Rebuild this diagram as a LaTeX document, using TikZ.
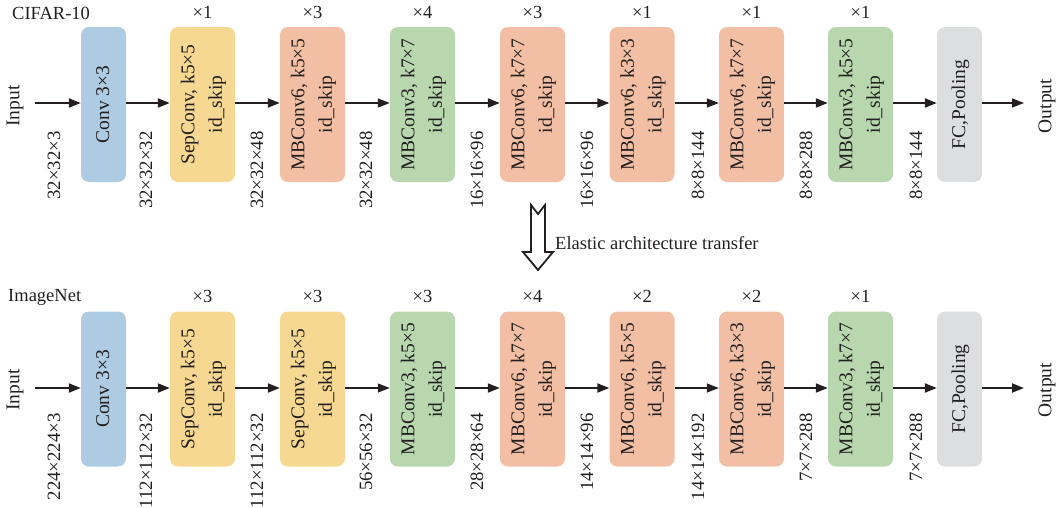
\documentclass[tikz,border=0pt]{standalone}
\usepackage{fontspec}
\setmainfont{Liberation Serif}
\usetikzlibrary{arrows.meta}
\definecolor{cblue}{RGB}{173,204,227}
\definecolor{cyel}{RGB}{246,216,147}
\definecolor{csal}{RGB}{243,191,164}
\definecolor{cgrn}{RGB}{184,215,175}
\definecolor{cgry}{RGB}{221,222,224}
\definecolor{ink}{RGB}{35,31,32}
\newcommand{\vt}[1]{\rotatebox{90}{\fontsize{19.5}{27.5}\selectfont\begin{tabular}{@{}c@{}}#1\end{tabular}}}
\begin{document}
\begin{tikzpicture}[x=1pt,y=-1pt,
  font=\fontsize{18.5}{22}\selectfont, text=ink,
  blk/.style={rounded corners=8pt, minimum height=155pt, minimum width=65pt, inner sep=0pt, align=center},
  narrow/.style={blk, minimum width=45pt},
  dim/.style={rotate=90, anchor=east, inner sep=0pt, font=\fontsize{18.8}{22}\selectfont},
  rot/.style={rotate=90, inner sep=0pt, font=\fontsize{19.5}{22}\selectfont},
  mult/.style={inner sep=0pt},
  conn/.style={line width=2pt, draw=ink, -{Triangle[length=12pt,width=9pt]}},
  connthin/.style={conn, line width=1.2pt}]

\useasboundingbox (0,0) rectangle (1056,507);

% ---------------- Top row: CIFAR-10 ----------------
\node[anchor=west, inner sep=0pt] (cifar) at (12,13) {CIFAR-10};
\node[rot] (in1) at (15,106) {Input};
\node[rot] (out1) at (1047,106) {Output};
\coordinate (s1) at (35,103);
\coordinate (e1) at (1024,103);

\node[narrow, fill=cblue] (a1) at (103.5,104.5) {\vt{Conv 3×3}};
\node[blk, fill=cyel] (a2) at (202.5,104.5) {\vt{SepConv, k5×5\\id\_skip}};
\node[blk, fill=csal] (a3) at (312.5,104.5) {\vt{MBConv6, k5×5\\id\_skip}};
\node[blk, fill=cgrn] (a4) at (422.5,104.5) {\vt{MBConv3, k7×7\\id\_skip}};
\node[blk, fill=csal] (a5) at (532.5,104.5) {\vt{MBConv6, k7×7\\id\_skip}};
\node[blk, fill=csal] (a6) at (642,104.5) {\vt{MBConv6, k3×3\\id\_skip}};
\node[blk, fill=csal] (a7) at (751.5,104.5) {\vt{MBConv6, k7×7\\id\_skip}};
\node[blk, fill=cgrn] (a8) at (860.5,104.5) {\vt{MBConv3, k5×5\\id\_skip}};
\node[narrow, fill=cgry] (a9) at (959.5,104.5) {\vt{FC,Pooling}};

\node[mult] (ma2) at (202.5,12) {×1};
\node[mult] (ma3) at (312.5,12) {×3};
\node[mult] (ma4) at (422.5,12) {×4};
\node[mult] (ma5) at (532.5,12) {×3};
\node[mult] (ma6) at (642,12) {×1};
\node[mult] (ma7) at (751.5,12) {×1};
\node[mult] (ma8) at (860.5,12) {×1};

\node[dim] (da1) at (54,131) {32×32×3};
\node[dim] (da2) at (146,131) {32×32×32};
\node[dim] (da3) at (257,131) {32×32×48};
\node[dim] (da4) at (366,131) {32×32×48};
\node[dim] (da5) at (477,131) {16×16×96};
\node[dim] (da6) at (587,131) {16×16×96};
\node[dim] (da7) at (698,131) {8×8×144};
\node[dim] (da8) at (806,131) {8×8×288};
\node[dim] (da9) at (916,131) {8×8×144};

\draw[conn] (s1) -- (a1.west |- s1);
\draw[conn] (a1.east |- s1) -- (a2.west |- s1);
\draw[conn] (a2.east |- s1) -- (a3.west |- s1);
\draw[connthin] (a3.east |- s1) -- (a4.west |- s1);
\draw[conn] (a4.east |- s1) -- (a5.west |- s1);
\draw[conn] (a5.east |- s1) -- (a6.west |- s1);
\draw[connthin] (a6.east |- s1) -- (a7.west |- s1);
\draw[conn] (a7.east |- s1) -- (a8.west |- s1);
\draw[conn] (a8.east |- s1) -- (a9.west |- s1);
\draw[connthin] (a9.east |- s1) -- (e1);

% ---------------- Transfer arrow ----------------
\coordinate (tr) at (538,205);
\draw[line width=1.8pt, draw=ink, fill=white, line join=miter]
  (531,205) -- (538,214) -- (545,205) -- (545,252) -- (553,252) -- (538,270)
  -- (523,252) -- (531,252) -- cycle;
\node[anchor=west, inner sep=0pt] (eat) at (555,243) {Elastic architecture transfer};

% ---------------- Bottom row: ImageNet ----------------
\node[anchor=west, inner sep=0pt] (imnet) at (8,297) {ImageNet};
\node[rot] (in2) at (15,390) {Input};
\node[rot] (out2) at (1047,390) {Output};
\coordinate (s2) at (35,388);
\coordinate (e2) at (1024,388);

\node[narrow, fill=cblue] (b1) at (103.5,389) {\vt{Conv 3×3}};
\node[blk, fill=cyel] (b2) at (202.5,389) {\vt{SepConv, k5×5\\id\_skip}};
\node[blk, fill=cyel] (b3) at (312.5,389) {\vt{SepConv, k5×5\\id\_skip}};
\node[blk, fill=cgrn] (b4) at (422.5,389) {\vt{MBConv3, k5×5\\id\_skip}};
\node[blk, fill=csal] (b5) at (532.5,389) {\vt{MBConv6, k7×7\\id\_skip}};
\node[blk, fill=csal] (b6) at (642,389) {\vt{MBConv6, k5×5\\id\_skip}};
\node[blk, fill=csal] (b7) at (751.5,389) {\vt{MBConv6, k3×3\\id\_skip}};
\node[blk, fill=cgrn] (b8) at (860.5,389) {\vt{MBConv3, k7×7\\id\_skip}};
\node[narrow, fill=cgry] (b9) at (959.5,389) {\vt{FC,Pooling}};

\node[mult] (mb2) at (202.5,296) {×3};
\node[mult] (mb3) at (312.5,296) {×3};
\node[mult] (mb4) at (422.5,296) {×3};
\node[mult] (mb5) at (532.5,296) {×4};
\node[mult] (mb6) at (642,296) {×2};
\node[mult] (mb7) at (751.5,296) {×2};
\node[mult] (mb8) at (860.5,296) {×1};

\node[dim] (db1) at (54,413) {224×224×3};
\node[dim] (db2) at (146,413) {112×112×32};
\node[dim] (db3) at (257,413) {112×112×32};
\node[dim] (db4) at (366,413) {56×56×32};
\node[dim] (db5) at (477,413) {28×28×64};
\node[dim] (db6) at (587,413) {14×14×96};
\node[dim] (db7) at (698,413) {14×14×192};
\node[dim] (db8) at (806,413) {7×7×288};
\node[dim] (db9) at (916,413) {7×7×288};

\draw[conn] (s2) -- (b1.west |- s2);
\draw[conn] (b1.east |- s2) -- (b2.west |- s2);
\draw[conn] (b2.east |- s2) -- (b3.west |- s2);
\draw[connthin] (b3.east |- s2) -- (b4.west |- s2);
\draw[conn] (b4.east |- s2) -- (b5.west |- s2);
\draw[conn] (b5.east |- s2) -- (b6.west |- s2);
\draw[connthin] (b6.east |- s2) -- (b7.west |- s2);
\draw[conn] (b7.east |- s2) -- (b8.west |- s2);
\draw[conn] (b8.east |- s2) -- (b9.west |- s2);
\draw[conn] (b9.east |- s2) -- (e2);
\end{tikzpicture}
\end{document}
